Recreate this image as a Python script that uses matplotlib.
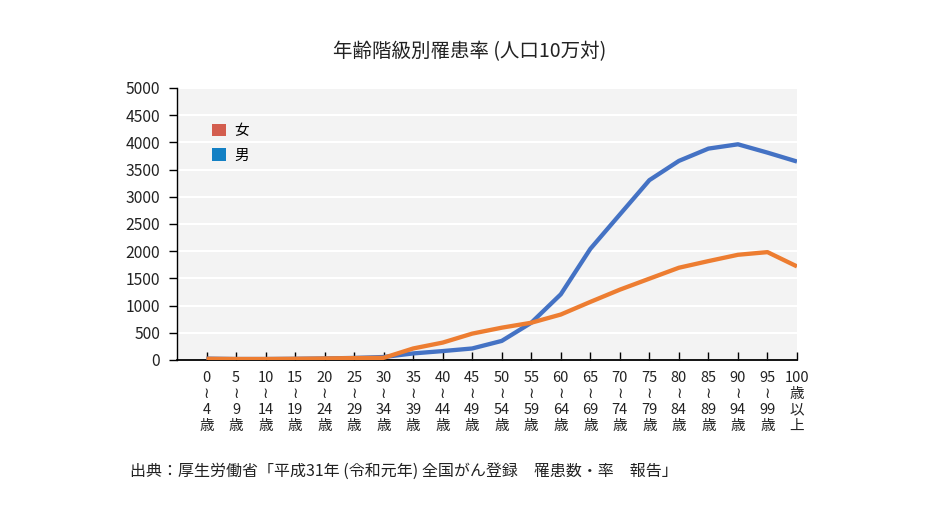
import matplotlib
matplotlib.use("Agg")
import matplotlib.pyplot as plt
from matplotlib.patches import Patch

plt.rcParams['font.family'] = ['Noto Sans CJK JP', 'DejaVu Sans']

# ---- data ----
age_starts = [0, 5, 10, 15, 20, 25, 30, 35, 40, 45, 50, 55, 60, 65, 70, 75, 80, 85, 90, 95, 100]
tick_labels = [f"{a}\n≀\n{a + 4}\n歳" for a in age_starts[:-1]] + ["100\n歳\n以\n上"]
male = [25, 18, 18, 22, 28, 38, 55, 121, 164, 212, 351, 685, 1208, 2043, 2675, 3306, 3660, 3886, 3965, 3812, 3648]
female = [22, 18, 18, 22, 28, 35, 40, 212, 320, 485, 594, 685, 836, 1068, 1293, 1495, 1696, 1818, 1934, 1983, 1720]
yticks = [0, 500, 1000, 1500, 2000, 2500, 3000, 3500, 4000, 4500, 5000]
title = "年齢階級別罹患率 (人口10万対)"
source = "出典：厚生労働省「平成31年 (令和元年) 全国がん登録　罹患数・率　報告」"
legend_labels = ["女", "男"]
legend_colors = ["#d35d4e", "#1380c4"]
line_colors = {"male": "#4472c4", "female": "#ed7d31"}

fig = plt.figure(figsize=(9.4, 5.22), dpi=100)
ax = fig.add_axes([177 / 940, 1 - 360 / 522, (797 - 177) / 940, (360 - 88) / 522])
ax.set_facecolor("#f3f3f3")

x = list(range(len(age_starts)))
ax.plot(x, male, color=line_colors["male"], lw=3.1, solid_capstyle="butt", zorder=3)
ax.plot(x, female, color=line_colors["female"], lw=3.1, solid_capstyle="butt", zorder=4)

ax.set_xlim(-1, len(age_starts) - 1)
ax.set_ylim(0, 5000)
ax.set_yticks(yticks)
ax.set_yticklabels([str(v) for v in yticks], fontsize=11.3, color="#222222")
ax.yaxis.grid(True, color="white", lw=1.5)
ax.set_axisbelow(True)

ax.set_xticks(x)
ax.set_xticklabels(tick_labels, fontsize=10.5, linespacing=1.18, va="top", color="#222222")
ax.tick_params(axis="x", direction="in", length=6, width=1, pad=8, color="black")
ax.tick_params(axis="y", direction="out", length=6, width=1, pad=6, color="black")

for s in ["top", "right"]:
    ax.spines[s].set_visible(False)
ax.spines["left"].set_color("black")
ax.spines["bottom"].set_color("black")
ax.spines["left"].set_linewidth(1)
ax.spines["bottom"].set_linewidth(1.3)

handles = [Patch(facecolor=c, edgecolor="none") for c in legend_colors]
ax.legend(handles, legend_labels, loc="upper left", bbox_to_anchor=(0.047, 0.89),
          frameon=False, handlelength=0.95, handleheight=0.95, handletextpad=0.6,
          labelspacing=0.7, fontsize=10.5, borderaxespad=0)

fig.text(0.5, 1 - 52 / 522, title, ha="center", va="center", fontsize=14, color="#222222")
fig.text(130 / 940, 1 - 471 / 522, source, ha="left", va="center", fontsize=11.5, color="#222222")

fig.savefig("out.png", dpi=100)
